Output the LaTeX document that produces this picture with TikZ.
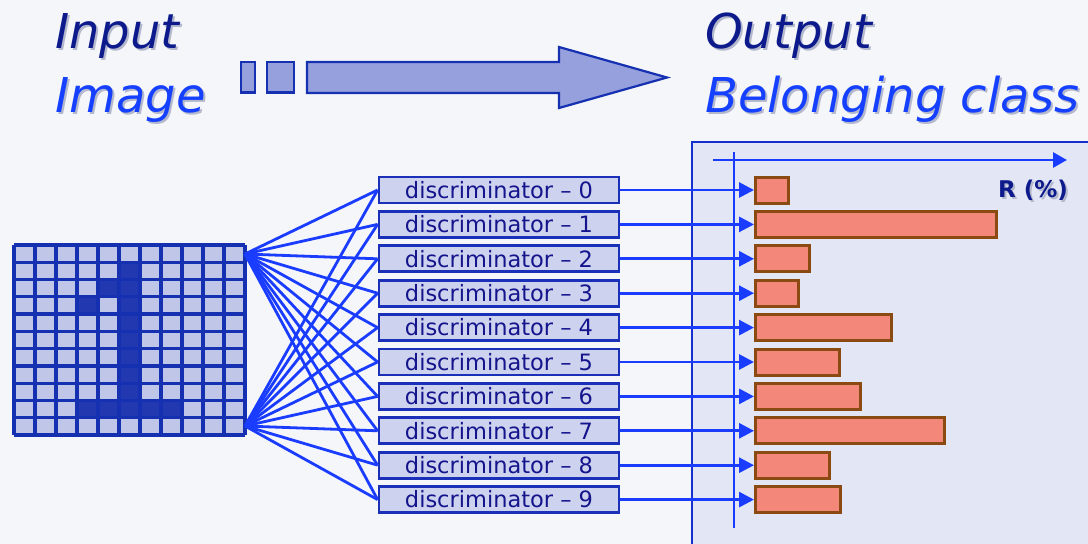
\documentclass[tikz,border=0pt]{standalone}
\usepackage{fontspec}
\setmainfont{DejaVu Sans}
\usetikzlibrary{arrows.meta}
\definecolor{bgc}{HTML}{F4F6FA}
\definecolor{panelc}{HTML}{E3E6F4}
\definecolor{linec}{HTML}{1A3CFF}
\definecolor{navy}{HTML}{0D1A8C}
\definecolor{brightb}{HTML}{1540FF}
\definecolor{cellL}{HTML}{BFC6E8}
\definecolor{cellD}{HTML}{2238B0}
\definecolor{gridc}{HTML}{1530B0}
\definecolor{boxfill}{HTML}{CDD2EE}
\definecolor{boxdraw}{HTML}{1A30B8}
\definecolor{boxtext}{HTML}{14148C}
\definecolor{barfill}{HTML}{F2877A}
\definecolor{bardraw}{HTML}{8A4A12}
\definecolor{arrfill}{HTML}{95A0DC}
\definecolor{shadowc}{HTML}{B4B8CC}
\tikzset{
  conn/.style={draw=linec, line width=2.8pt},
  dbox/.style={draw=boxdraw, fill=boxfill, line width=2.8pt, minimum width=240pt,
    minimum height=26pt, inner sep=0pt, text=boxtext, font=\fontsize{22.5}{22.5}\selectfont},
  barbox/.style={draw=bardraw, fill=barfill, line width=3pt, minimum height=26pt,
    inner sep=0pt, anchor=west},
  titlefont/.style={font=\itshape\fontsize{48}{48}\selectfont, anchor=base west, inner sep=0pt},
  tip/.style={-{Triangle[length=15pt,width=15pt]}}
}
\begin{document}
\begin{tikzpicture}[x=1pt,y=-1pt]
\fill[bgc] (0,0) rectangle (1088,544);
\useasboundingbox (0,0) rectangle (1088,544);

% titles
\node[titlefont, text=shadowc] at (57,50) {Input};
\node[titlefont, text=navy] (tin) at (55,48) {Input};
\node[titlefont, text=shadowc] at (57,114) {Image};
\node[titlefont, text=brightb] (tim) at (55,112) {Image};
\node[titlefont, text=shadowc] at (707,50) {Output};
\node[titlefont, text=navy] (tout) at (705,48) {Output};
\node[titlefont, text=shadowc] at (707,114) {Belonging class};
\node[titlefont, text=brightb] (tbel) at (705,112) {Belonging class};

% big arrow
\begin{scope}[draw=gridc, fill=arrfill, line width=2.2pt]
\filldraw (241,62) rectangle (255,92.5);
\filldraw (267,62) rectangle (294,92.5);
\filldraw (307,62) -- (559,62) -- (559,47) -- (667,77.5) -- (559,108) -- (559,93) -- (307,93) -- cycle;
\end{scope}

% panel
\draw[fill=panelc, draw=linec!80!black, line width=2.6pt] (692,142) rectangle (1100,560);

% grid image
\fill[cellL] (14,245) rectangle (245,435);
\foreach \r/\c in {1/5,2/4,2/5,3/3,3/5,4/5,5/5,6/5,7/5,8/5,9/3,9/4,9/5,9/6,9/7}
  \fill[cellD] ({14+21*\c},{245+190/11*\r}) rectangle ++(21,{190/11});
\foreach \i in {0,...,11} {
  \draw[gridc, line width=3.2pt] ({14+21*\i},245) -- ({14+21*\i},435);
  \draw[gridc, line width=3.2pt] (14,{245+190/11*\i}) -- (245,{245+190/11*\i});
}
\coordinate (gt) at (245,254);
\coordinate (gb) at (245,426);

% discriminators
\foreach \i in {0,...,9}
  \node[dbox] (d\i) at (499,{190+34.4*\i}) {discriminator – \i};
\foreach \i in {0,...,9} {
  \draw[conn] (gt) -- (d\i.west);
  \draw[conn] (gb) -- (d\i.west);
}

% axes
\coordinate (vt) at (734,152);
\coordinate (vb) at (734,528);
\draw[conn] (vt) -- (vb);
\coordinate (ha) at (713,160);
\coordinate (hb) at (1067,160);
\draw[conn, -{Triangle[length=14pt,width=15pt]}] (ha) -- (hb);

% bars
\foreach \i/\r in {0/787,1/995,2/808,3/797,4/890,5/838,6/859,7/943,8/828,9/839} {
  \node[barbox, minimum width={\r-754}] (b\i) at (754,{190+34.4*\i}) {};
  \draw[conn, tip] (d\i.east) -- (b\i.west);
}

% R label
\node[font=\bfseries\fontsize{23}{23}\selectfont, text=shadowc] at (1035,192) {R (\%)};
\node[font=\bfseries\fontsize{23}{23}\selectfont, text=navy] (rl) at (1033,190) {R (\%)};
\end{tikzpicture}
\end{document}
